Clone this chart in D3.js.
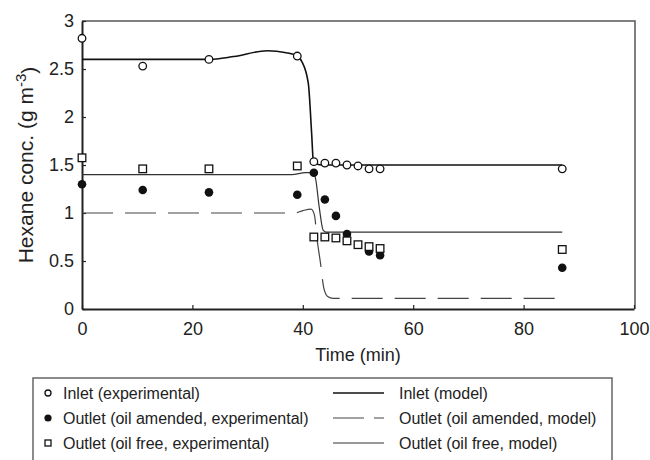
<!DOCTYPE html>
<html>
<head>
<meta charset="utf-8">
<script src="https://cdn.jsdelivr.net/npm/d3@7"></script>
<style>
  html, body { margin: 0; padding: 0; background: #fff; }
  svg { display: block; font-family: "Liberation Sans", Arial, sans-serif; }
</style>
</head>
<body>
<svg id="chart" width="650" height="460"></svg>
<script>
// Hexane concentration vs time: measured points and model curves

// Inlet (experimental)
const inletExpTime = [0, 11, 23, 39, 42, 44, 46, 48, 50, 52, 54, 87];
const inletExp     = [2.82, 2.53, 2.60, 2.635, 1.535, 1.52, 1.52, 1.50, 1.49, 1.46, 1.46, 1.46];

// Outlet, oil amended (experimental)
const amendedExpTime = [0, 11, 23, 39, 42, 44, 46, 48, 52, 54, 87];
const amendedExp     = [1.30, 1.24, 1.215, 1.19, 1.42, 1.14, 0.97, 0.78, 0.60, 0.56, 0.43];

// Outlet, oil free (experimental)
const freeExpTime = [0, 11, 23, 39, 42, 44, 46, 48, 50, 52, 54, 87];
const freeExp     = [1.575, 1.46, 1.46, 1.49, 0.75, 0.75, 0.74, 0.71, 0.67, 0.65, 0.63, 0.62];

// Inlet (model)
const inletModelTime = [0, 23, 27.5, 33.5, 37, 39, 39.8, 41, 41.6, 41.9, 42.5, 43.5, 87];
const inletModel     = [2.60, 2.60, 2.63, 2.69, 2.67, 2.635, 2.58, 2.35, 1.83, 1.55, 1.51, 1.50, 1.50];

// Outlet, oil amended (model)
const amendedModelTime = [0, 38.5, 40, 41.5, 42.1, 42.6, 43.2, 43.8, 44.5, 45.5, 87];
const amendedModel     = [1.00, 1.00, 1.025, 1.04, 0.98, 0.72, 0.48, 0.22, 0.13, 0.11, 0.11];

// Outlet, oil free (model)
const freeModelTime = [0, 38, 40.5, 41.8, 42.3, 43, 43.7, 44.3, 87];
const freeModel     = [1.40, 1.40, 1.42, 1.42, 1.36, 1.05, 0.82, 0.80, 0.80];

const xTicks = [0, 20, 40, 60, 80, 100];
const yTicks = [0, 0.5, 1, 1.5, 2, 2.5, 3];

const legendLeft  = ["Inlet (experimental)", "Outlet (oil amended, experimental)", "Outlet (oil free, experimental)"];
const legendRight = ["Inlet (model)", "Outlet (oil amended, model)", "Outlet (oil free, model)"];

const svg = d3.select("#chart");
const x = d3.scaleLinear().domain([0, 100]).range([82, 634]);
const y = d3.scaleLinear().domain([0, 3]).range([309, 21]);

const ink = "#222";

// frame (top and right)
svg.append("path")
  .attr("d", `M${x(0)},${y(3)}H${x(100) + 1}V${y(0)}`)
  .attr("fill", "none").attr("stroke", "#555").attr("stroke-width", 1.5);

// axes with inward ticks
const yAxis = svg.append("g").attr("transform", `translate(${x(0)},0)`)
  .call(d3.axisLeft(y).tickValues(yTicks).tickSizeInner(-4).tickSizeOuter(0).tickPadding(8)
    .tickFormat(d3.format("")));
const xAxis = svg.append("g").attr("transform", `translate(0,${y(0)})`)
  .call(d3.axisBottom(x).tickValues(xTicks).tickSizeInner(-4).tickSizeOuter(0).tickPadding(13)
    .tickFormat(d3.format("")));
[xAxis, yAxis].forEach(g => {
  g.select(".domain").attr("stroke", ink).attr("stroke-width", 2);
  g.selectAll(".tick line").attr("stroke", ink).attr("stroke-width", 1.2);
  g.selectAll(".tick text").attr("fill", ink).style("font-size", "18px")
    .style("font-family", "'Liberation Sans', Arial, sans-serif");
});

// axis titles
svg.append("text")
  .attr("x", (x(0) + x(100)) / 2).attr("y", 361)
  .attr("text-anchor", "middle").attr("fill", ink).style("font-size", "18px")
  .text("Time (min)");
const yt = svg.append("text")
  .attr("transform", `translate(33,${(y(0) + y(3)) / 2}) rotate(-90)`)
  .attr("text-anchor", "middle").attr("fill", ink).style("font-size", "21px");
yt.append("tspan").text("Hexane conc. (g m");
yt.append("tspan").attr("dy", "-0.45em").style("font-size", "15px").text("-3");
yt.append("tspan").attr("dy", "0.45em").text(")");

// model curves
const line = d3.line().x(d => x(d[0])).y(d => y(d[1])).curve(d3.curveMonotoneX);
const zip = (t, v) => t.map((ti, i) => [ti, v[i]]);

svg.append("path").datum(zip(freeModelTime, freeModel))
  .attr("d", line).attr("fill", "none").attr("stroke", "#333").attr("stroke-width", 1.2);
svg.append("path").datum(zip(amendedModelTime, amendedModel))
  .attr("d", line).attr("fill", "none").attr("stroke", "#444").attr("stroke-width", 1.2)
  .attr("stroke-dasharray", "31,12");
svg.append("path").datum(zip(inletModelTime, inletModel))
  .attr("d", line).attr("fill", "none").attr("stroke", "#111").attr("stroke-width", 1.6);

// experimental points
svg.append("g").selectAll("circle").data(zip(amendedExpTime, amendedExp)).join("circle")
  .attr("cx", d => x(d[0])).attr("cy", d => y(d[1])).attr("r", 4.3).attr("fill", "#111");
svg.append("g").selectAll("rect").data(zip(freeExpTime, freeExp)).join("rect")
  .attr("x", d => x(d[0]) - 3.8).attr("y", d => y(d[1]) - 3.8).attr("width", 7.6).attr("height", 7.6)
  .attr("fill", "#fff").attr("stroke", "#111").attr("stroke-width", 1.3);
svg.append("g").selectAll("circle").data(zip(inletExpTime, inletExp)).join("circle")
  .attr("cx", d => x(d[0])).attr("cy", d => y(d[1])).attr("r", 3.8)
  .attr("fill", "#fff").attr("stroke", "#111").attr("stroke-width", 1.3);

// legend
const lg = svg.append("g");
lg.append("rect").attr("x", 33).attr("y", 378).attr("width", 579).attr("height", 100)
  .attr("fill", "#fff").attr("stroke", "#666").attr("stroke-width", 1.5);
const rowY = [393, 418, 443];
const mx = 48;
legendLeft.forEach((label, i) => {
  const cy = rowY[i];
  if (i === 0) lg.append("circle").attr("cx", mx).attr("cy", cy).attr("r", 3)
    .attr("fill", "#fff").attr("stroke", "#111").attr("stroke-width", 1.3);
  if (i === 1) lg.append("circle").attr("cx", mx).attr("cy", cy).attr("r", 3.6).attr("fill", "#111");
  if (i === 2) lg.append("rect").attr("x", mx - 3).attr("y", cy - 3).attr("width", 6).attr("height", 6)
    .attr("fill", "#fff").attr("stroke", "#111").attr("stroke-width", 1.3);
  lg.append("text").attr("x", 63).attr("y", cy).attr("dy", "0.35em")
    .attr("fill", ink).style("font-size", "16px").text(label);
});
legendRight.forEach((label, i) => {
  const cy = rowY[i];
  const l = lg.append("line").attr("x1", 333).attr("x2", 384).attr("y1", cy).attr("y2", cy)
    .attr("fill", "none");
  if (i === 0) l.attr("stroke", "#111").attr("stroke-width", 1.6);
  if (i === 1) l.attr("stroke", "#444").attr("stroke-width", 1.2).attr("stroke-dasharray", "31,10");
  if (i === 2) l.attr("stroke", "#333").attr("stroke-width", 1.2);
  lg.append("text").attr("x", 399).attr("y", cy).attr("dy", "0.35em")
    .attr("fill", ink).style("font-size", "16px").text(label);
});
</script>
</body>
</html>
